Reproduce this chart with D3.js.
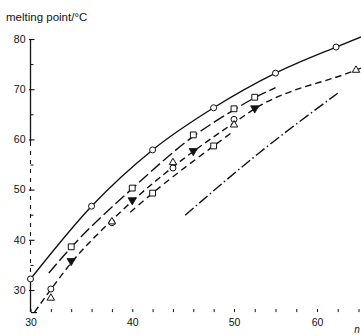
<!DOCTYPE html>
<html>
<head>
<meta charset="utf-8">
<script src="https://cdn.jsdelivr.net/npm/d3@7"></script>
<style>
  body { margin: 0; background: #fff; }
  svg text { font-family: "Liberation Sans", Arial, sans-serif; fill: #111; }
</style>
</head>
<body>
<div class="meltGraph"></div>
<script>
// x ticks (n) and y ticks (melting point)
const xTicks = [30, 32, 34, 36, 38, 40, 42, 44, 46, 48, 50, 52.5, 55, 57.5, 60, 62.5, 65];
const xLabels = [30, 40, 50, 60];
const yMajor = [30, 40, 50, 60, 70, 80];
const yMinor = [35, 45, 55, 65, 75];

// fitted curves
const curveSolidX = [30, 36, 42, 48, 55, 62.3, 65.3];
const curveSolidY = [32.2, 46.7, 57.9, 66.3, 73.2, 78.4, 80.4];
const curveLongX = [31.8, 34, 40, 46, 50, 52.5, 55];
const curveLongY = [33.4, 38.5, 50.2, 60.6, 65.9, 68.3, 70.3];
const curveDashX = [30.4, 32, 34, 38, 40, 44, 46, 50, 52.5, 64.7, 65.3];
const curveDashY = [25.6, 30.1, 35.4, 43.9, 47.7, 54.5, 57.6, 63.3, 66.1, 73.8, 74.2];
const curveDash2X = [39.8, 42, 48, 49.8];
const curveDash2Y = [45.5, 49.3, 58.7, 61.4];
const curveDotX = [45.2, 53.1, 62.5];
const curveDotY = [44.9, 57.4, 69.2];

// markers
const circleX = [30, 36, 42, 48, 55, 62.3, 32, 38, 44, 50];
const circleY = [32.2, 46.7, 57.9, 66.3, 73.2, 78.4, 30.2, 43.4, 54.3, 64.0];
const squareX = [34, 40, 46, 50, 52.5, 42, 48];
const squareY = [38.6, 50.3, 60.9, 66.1, 68.4, 49.3, 58.7];
const downTriX = [34, 40, 46, 52.5];
const downTriY = [35.8, 47.9, 57.7, 66.2];
const upTriX = [32, 38, 44, 50, 64.7];
const upTriY = [28.4, 43.6, 55.4, 62.9, 73.8];

const W = 361, H = 335;

const svg = d3.select(".meltGraph").append("svg")
  .attr("width", W)
  .attr("height", H);

// axis spacing is uneven in the source: 50->60 is shorter than 40->50
const x = d3.scaleLinear()
  .domain([30, 50, 60])
  .range([30.5, 234, 317]);

const y = d3.scaleLinear()
  .domain([30, 80])
  .range([290, 39]);

const yBottom = 25.6;
const axisY = y(yBottom);

// y axis line: solid, a broken stretch, solid again (as scanned)
svg.append("line")
  .attr("x1", x(30)).attr("x2", x(30))
  .attr("y1", y(80)).attr("y2", y(59.5))
  .attr("stroke", "#111").attr("stroke-width", 1.3);
svg.append("line")
  .attr("x1", x(30)).attr("x2", x(30))
  .attr("y1", y(59.5)).attr("y2", y(32))
  .attr("stroke", "#111").attr("stroke-width", 1.1)
  .attr("stroke-dasharray", "4,5");
svg.append("line")
  .attr("x1", x(30)).attr("x2", x(30))
  .attr("y1", y(32)).attr("y2", axisY)
  .attr("stroke", "#111").attr("stroke-width", 1.3);

// y ticks
const gy = svg.append("g")
  .attr("transform", "translate(" + x(30) + ",0)")
  .call(d3.axisLeft(y).tickValues(yMajor).tickSizeInner(-4).tickSizeOuter(0).tickPadding(5));
gy.select(".domain").remove();
gy.selectAll(".tick line").attr("x1", -1.5).attr("stroke", "#111").attr("stroke-width", 1.1);
gy.selectAll(".tick text").style("font-size", "10.5px").attr("fill", "#111");

const gy2 = svg.append("g")
  .attr("transform", "translate(" + x(30) + ",0)")
  .call(d3.axisLeft(y).tickValues(yMinor).tickSizeInner(-3).tickSizeOuter(0).tickFormat(""));
gy2.select(".domain").remove();
gy2.selectAll(".tick line").attr("stroke", "#111").attr("stroke-width", 1);

// x axis: only the ticks survived the scan, plus a stub at the corner
const gx = svg.append("g")
  .attr("transform", "translate(0," + axisY + ")")
  .call(d3.axisBottom(x).tickValues(xTicks).tickSizeInner(-3).tickSizeOuter(0).tickPadding(6)
    .tickFormat(d => xLabels.includes(d) ? d : ""));
gx.select(".domain").attr("stroke", "#111").attr("stroke-width", 1.2)
  .attr("stroke-dasharray", "6,1000");
gx.selectAll(".tick line").attr("stroke", "#111").attr("stroke-width", 1);
gx.selectAll(".tick text").style("font-size", "10.5px").attr("fill", "#111");

// titles
svg.append("text")
  .attr("x", 6).attr("y", 21)
  .style("font-size", "11.5px")
  .text("melting point/°C");
svg.append("text")
  .attr("x", 357).attr("y", 333)
  .attr("text-anchor", "middle")
  .style("font-size", "10px").style("font-style", "italic")
  .text("n");

// curves
const line = d3.line()
  .x(d => x(d[0]))
  .y(d => y(d[1]))
  .curve(d3.curveMonotoneX);

const zip = (a, b) => a.map((v, i) => [v, b[i]]);

const curves = [
  { pts: zip(curveSolidX, curveSolidY), dash: null },
  { pts: zip(curveLongX, curveLongY), dash: "12,4" },
  { pts: zip(curveDashX, curveDashY), dash: "6.5,4" },
  { pts: zip(curveDash2X, curveDash2Y), dash: "6.5,4.5" },
  { pts: zip(curveDotX, curveDotY), dash: "11,3,1.5,3" }
];

svg.selectAll(".curve")
  .data(curves)
  .enter().append("path")
  .attr("class", "curve")
  .attr("d", d => line(d.pts))
  .attr("fill", "none")
  .attr("stroke", "#111")
  .attr("stroke-width", 1.4)
  .attr("stroke-dasharray", d => d.dash);

// markers
svg.selectAll(".circ")
  .data(zip(circleX, circleY))
  .enter().append("circle")
  .attr("class", "circ")
  .attr("cx", d => x(d[0]))
  .attr("cy", d => y(d[1]))
  .attr("r", 3)
  .attr("fill", "#fff")
  .attr("stroke", "#111")
  .attr("stroke-width", 1);

svg.selectAll(".sq")
  .data(zip(squareX, squareY))
  .enter().append("path")
  .attr("class", "sq")
  .attr("d", d3.symbol().type(d3.symbolSquare).size(34))
  .attr("transform", d => "translate(" + x(d[0]) + "," + y(d[1]) + ")")
  .attr("fill", "#fff")
  .attr("stroke", "#111")
  .attr("stroke-width", 1);

svg.selectAll(".utri")
  .data(zip(upTriX, upTriY))
  .enter().append("path")
  .attr("class", "utri")
  .attr("d", d3.symbol().type(d3.symbolTriangle).size(24))
  .attr("transform", d => "translate(" + x(d[0]) + "," + y(d[1]) + ")")
  .attr("fill", "#fff")
  .attr("stroke", "#111")
  .attr("stroke-width", 1);

svg.selectAll(".dtri")
  .data(zip(downTriX, downTriY))
  .enter().append("path")
  .attr("class", "dtri")
  .attr("d", d3.symbol().type(d3.symbolTriangle).size(30))
  .attr("transform", d => "translate(" + x(d[0]) + "," + y(d[1]) + ") rotate(180)")
  .attr("fill", "#111")
  .attr("stroke", "#111")
  .attr("stroke-width", 0.8);
</script>
</body>
</html>
